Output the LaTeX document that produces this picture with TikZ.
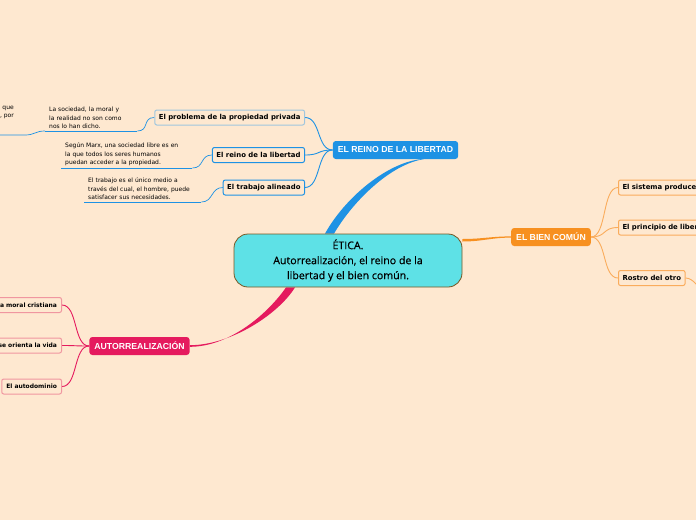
\documentclass[tikz,border=0pt]{standalone}
\usepackage{fontspec}
\setmainfont{Liberation Sans}
\newfontfamily\verd{DejaVu Sans}
\newfontfamily\opsans[FakeBold=0.4]{Open Sans}
\usetikzlibrary{positioning,calc}

\definecolor{fondo}{RGB}{254,232,208}
\definecolor{cian}{RGB}{94,225,230}
\definecolor{cafe}{RGB}{120,88,36}
\definecolor{azul}{RGB}{30,146,228}
\definecolor{azulclaro}{RGB}{160,198,222}
\definecolor{naranja}{RGB}{247,144,32}
\definecolor{naranjaclaro}{RGB}{250,172,92}
\definecolor{rosa}{RGB}{229,26,94}
\definecolor{rosaclaro}{RGB}{240,150,160}

\pgfdeclarelayer{bg}
\pgfsetlayers{bg,main}

\tikzset{
  central/.style={draw=cafe, line width=0.8pt, fill=cian, rounded corners=14pt,
    minimum width=228pt, minimum height=53pt, align=center,
    font=\opsans\fontsize{10.6}{15}\selectfont},
  tema/.style={fill=#1, text=white, rounded corners=3pt, minimum height=18pt,
    inner xsep=5pt, font=\bfseries\fontsize{8.7}{9}\selectfont},
  sub/.style={draw=#1, fill=fondo, rounded corners=2pt, line width=1pt,
    minimum height=15pt, inner xsep=4pt, inner ysep=2pt,
    font=\verd\bfseries\fontsize{6.9}{7}\selectfont},
  subrosa/.style={sub=rosaclaro, anchor=east, inner xsep=4.5pt, font=\verd\bfseries\fontsize{6}{7}\selectfont},
  nota/.style={align=left, inner xsep=4pt, inner ysep=2pt, anchor=south west,
    font=\verd\fontsize{6}{8.4}\selectfont},
  rama/.style={draw=#1, line width=0.9pt},
}

\begin{document}
\begin{tikzpicture}[x=1pt,y=-1pt]
\useasboundingbox (0,0) rectangle (696,520);

% centro y temas
\node[central] (etica) at (348,260.5) {ÉTICA.\\Autorrealización, el reino de la\\libertad y el bien común.};
\node[tema=azul] (reino) at (395.5,150) {EL REINO DE LA LIBERTAD};
\node[tema=naranja] (bien) at (551,237) {EL BIEN COMÚN};
\node[tema=rosa] (auto) at (139.5,346) {AUTORREALIZACIÓN};

% el reino de la libertad
\node[sub=azulclaro, anchor=east] (prop) at (305,117.5) {El problema de la propiedad privada};
\node[sub=azul, anchor=east] (libre) at (305,155) {El reino de la libertad};
\node[sub=azul, anchor=east] (trab) at (305,187.5) {El trabajo alineado};
\node[nota, text width=84pt] (n1) at (45,131) {La sociedad, la moral y\\la realidad no son como\\nos lo han dicho.};
\node[nota, text width=123pt] (n2) at (61,168) {Según Marx, una sociedad libre es en\\la que todos los seres humanos\\puedan acceder a la propiedad.};
\node[nota, text width=109pt] (n3) at (84,202) {El trabajo es el único medio a\\través del cual, el hombre, puede\\satisfacer sus necesidades.};
\node[align=right, anchor=north east, inner sep=0pt, font=\verd\fontsize{6}{8.4}\selectfont] (n0) at (14,105.5) {que\\, por};
\coordinate (n0a) at (-5,135);
\coordinate (n0b) at (25,135);

% el bien comun
\node[sub=naranjaclaro, anchor=west, text width=90pt] (sist) at (618,187.5) {El sistema produce};
\node[sub=naranjaclaro, anchor=west, text width=90pt] (princ) at (618,227.5) {El principio de liber};
\node[sub=naranjaclaro, anchor=west] (rostro) at (618,278) {Rostro del otro};
\coordinate (fuera) at (704,292);

% autorrealizacion
\node[subrosa, text width=90pt, align=right] (moral) at (62,305) {la moral cristiana};
\node[subrosa, text width=90pt, align=right] (vida) at (62,345.5) {se orienta la vida};
\node[subrosa] (autod) at (62,386.5) {El autodominio};

\begin{pgfonlayer}{bg}
\fill[fondo] (0,0) rectangle (696,520);
% ramas principales
\fill[azul] ([xshift=-23pt]etica.north) .. controls +(20,-36) and +(-34,4) .. ([xshift=25pt]reino.south)
  -- ([xshift=28pt]reino.south) .. controls +(-32,5) and +(20,-34) .. ([xshift=-14pt]etica.north) -- cycle;
\fill[rosa] ([xshift=-62pt]etica.south) .. controls +(-18,26) and +(40,0) .. ([yshift=-0.8pt]auto.east)
  -- ([yshift=0.8pt]auto.east) .. controls +(42,0) and +(-16,26) .. ([xshift=-53pt]etica.south) -- cycle;
\fill[naranja] ([yshift=21.5pt]etica.east) .. controls +(20,0) and +(-20,0) .. ([yshift=0.6pt]bien.west)
  -- ([yshift=-0.6pt]bien.west) .. controls +(-20,0) and +(20,0) .. ([yshift=19pt]etica.east) -- cycle;
% ramas secundarias
\foreach \hijo in {prop,libre,trab}
  \draw[rama=azul] (reino.west) .. controls +(-16,0) and +(16,0) .. (\hijo.east);
\foreach \hijo in {sist,princ,rostro}
  \draw[rama=naranjaclaro] (bien.east) .. controls +(16,0) and +(-16,0) .. (\hijo.west);
\foreach \hijo in {moral,vida,autod}
  \draw[rama=rosa] (auto.west) .. controls +(-16,0) and +(16,0) .. (\hijo.east);
\draw[rama=naranjaclaro] (rostro.east) .. controls +(8,0) and +(-6,-4) .. (fuera);
% notas
\foreach \nota/\padre in {n1/prop,n2/libre,n3/trab}{
  \draw[rama=azul, line width=0.7pt] (\nota.south west) -- (\nota.south east);
  \draw[rama=azul, line width=0.7pt] (\nota.south east) .. controls +(12,0) and +(-12,0) .. (\padre.west);
}
\draw[rama=azul, line width=0.7pt] (n0a) -- (n0b) .. controls +(10,0) and +(-10,0) .. (n1.south west);
\end{pgfonlayer}
\end{tikzpicture}
\end{document}
